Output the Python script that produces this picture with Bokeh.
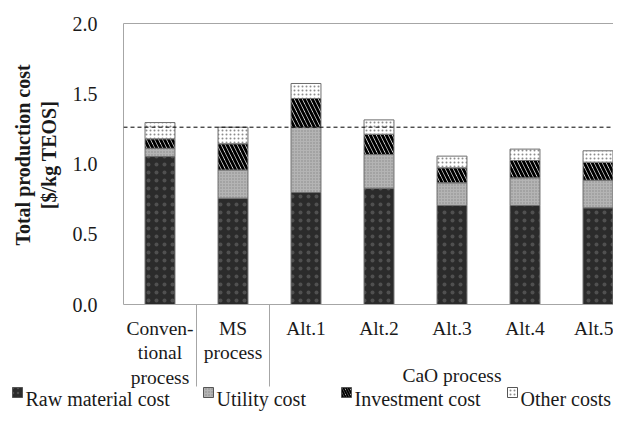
import math
from bokeh.plotting import figure
from bokeh.models import (ColumnDataSource, Range1d, FixedTicker, Span, PrintfTickFormatter,
                          LinearAxis)
from bokeh.core.properties import value
from bokeh.embed import file_html
from bokeh.resources import INLINE

# ---------------- data ----------------
categories = ["Conventional process", "MS process", "Alt.1", "Alt.2", "Alt.3", "Alt.4", "Alt.5"]
tick_labels = ["Conven-\ntional\nprocess", "MS\nprocess", "Alt.1", "Alt.2", "Alt.3", "Alt.4", "Alt.5"]
groups = ["conventional", "ms", "cao", "cao", "cao", "cao", "cao"]
group_titles = {"cao": "CaO process"}

raw_material = [1.053, 0.757, 0.797, 0.828, 0.705, 0.705, 0.688]
utility = [0.059, 0.201, 0.463, 0.240, 0.161, 0.197, 0.197]
investment = [0.067, 0.186, 0.206, 0.144, 0.107, 0.123, 0.128]
other = [0.116, 0.118, 0.107, 0.102, 0.083, 0.081, 0.081]
cost_names = ["Raw material cost", "Utility cost", "Investment cost", "Other costs"]

y_ticks = [0.0, 0.5, 1.0, 1.5, 2.0]
y_title = ["Total production cost", "[$/kg TEOS]"]
reference_category = "MS process"   # dashed reference line = total cost of MS process

# ---------------- layout constants (pixels) ----------------
W, H = 613, 412
FL, FT, FB = 123, 23, 304          # frame left / top / bottom in figure pixels
PX_PER_CAT = 73.0
X0, Y0, Y1 = -0.5, 0.0, 2.0
X1 = X0 + (W - FL) / PX_PER_CAT
FONT = "Liberation Serif, Times New Roman, Times, serif"
INK = "#1a1a1a"
FRAME = "#a6a6a6"

def px_x(fx):   # figure pixel -> data x
    return X0 + (fx - FL) / PX_PER_CAT

def px_y(fy):   # figure pixel -> data y
    return Y1 - (fy - FT) * (Y1 - Y0) / (FB - FT)

xs = list(range(len(categories)))

p = figure(width=W, height=H, title=None,
           x_range=Range1d(X0, X1), y_range=Range1d(Y0, Y1),
           output_backend="svg", toolbar_location=None,
           min_border_left=FL, min_border_right=0,
           min_border_top=FT, min_border_bottom=H - FB)
p.background_fill_color = "white"
p.border_fill_color = "white"
p.outline_line_color = None
p.xgrid.visible = False
p.ygrid.visible = False

source = ColumnDataSource(dict(x=xs, raw=raw_material, utility=utility,
                               investment=investment, other=other))

styles = dict(
    fill_color=["#2b2b2b", "#b4b4b4", "white", "white"],
    hatch_pattern=["dot", "dot", "left_diagonal_line", "dot"],
    hatch_color=["#505050", "#8a8a8a", "black", "#8c8c8c"],
    hatch_scale=[8, 3, 8, 4],
    hatch_weight=[1, 1, 3, 1],
)
renderers = p.vbar_stack(["raw", "utility", "investment", "other"], x="x", width=0.41,
                         source=source, line_color="#6e6e6e", line_width=1, **styles)

# dashed reference line (total of MS process)
ri = categories.index(reference_category)
ref_total = raw_material[ri] + utility[ri] + investment[ri] + other[ri]
p.add_layout(Span(location=ref_total, dimension="width", line_color="black",
                  line_dash="4 3", line_width=1))

# y axis
yax = p.yaxis[0]
yax.ticker = FixedTicker(ticks=y_ticks)
yax.formatter = PrintfTickFormatter(format="%.1f")
yax.axis_line_color = FRAME
yax.major_tick_line_color = None
yax.minor_tick_line_color = None
yax.major_tick_out = 0
yax.major_label_standoff = 26
yax.major_label_text_font = FONT
yax.major_label_text_font_size = "20px"
yax.major_label_text_color = INK

# y axis title (two bold lines, drawn left of the frame)
p.text(x=[px_x(22), px_x(48)], y=[px_y(154.5)] * 2, text=y_title, angle=math.pi / 2,
       text_align="center", text_baseline="middle",
       text_font=value(FONT), text_font_style="bold", text_font_size="20px",
       text_color=INK, level="overlay")

# x axis (bottom)
xax = p.xaxis[0]
xax.ticker = FixedTicker(ticks=xs)
xax.major_label_overrides = {i: lab for i, lab in zip(xs, tick_labels)}
xax.axis_line_color = FRAME
xax.major_tick_line_color = None
xax.minor_tick_line_color = None
xax.major_tick_out = 0
xax.major_label_standoff = 13
xax.major_label_text_font = FONT
xax.major_label_text_font_size = "19.5px"
xax.major_label_text_color = INK
xax.major_label_text_line_height = 1.17

# top border drawn as a bare axis
top = LinearAxis(ticker=FixedTicker(ticks=[]), axis_line_color=FRAME,
                 major_tick_line_color=None, minor_tick_line_color=None,
                 major_tick_out=0, major_label_standoff=0,
                 major_label_text_font_size="0px")
p.add_layout(top, "above")

# group separators and group titles
sep_x = [i + 0.5 for i in range(len(groups) - 1) if groups[i] != groups[i + 1]]
p.segment(x0=sep_x, y0=[0] * len(sep_x), x1=sep_x, y1=[px_y(386)] * len(sep_x),
          line_color=FRAME, line_width=1, level="overlay")
gx, gt = [], []
for g, title in group_titles.items():
    idx = [i for i, gg in enumerate(groups) if gg == g]
    gx.append(sum(idx) / len(idx))
    gt.append(title)
p.text(x=gx, y=[px_y(375)] * len(gx), text=gt, text_align="center",
       text_baseline="alphabetic", text_font=value(FONT), text_font_size="19.5px",
       text_color=INK, level="overlay")

# legend (drawn below the axis: swatch + label for each cost component)
swatch_left = [12, 203, 341, 507]           # figure pixels
leg_base = 398
for k, name in enumerate(cost_names):
    p.rect(x=[px_x(swatch_left[k] + 5)], y=[px_y(leg_base - 6)], width=10, height=10,
           width_units="screen", height_units="screen",
           fill_color=styles["fill_color"][k], hatch_pattern=styles["hatch_pattern"][k],
           hatch_color=styles["hatch_color"][k], hatch_scale=min(styles["hatch_scale"][k], 5),
           hatch_weight=min(styles["hatch_weight"][k], 2),
           line_color="#555555", line_width=1, level="overlay")
    p.text(x=[px_x(swatch_left[k] + 13)], y=[px_y(leg_base)], text=[name],
           text_align="left", text_baseline="alphabetic", text_font=value(FONT),
           text_font_size="20px", text_color=INK, level="overlay")

open("out.html", "w").write(file_html(p, INLINE))
